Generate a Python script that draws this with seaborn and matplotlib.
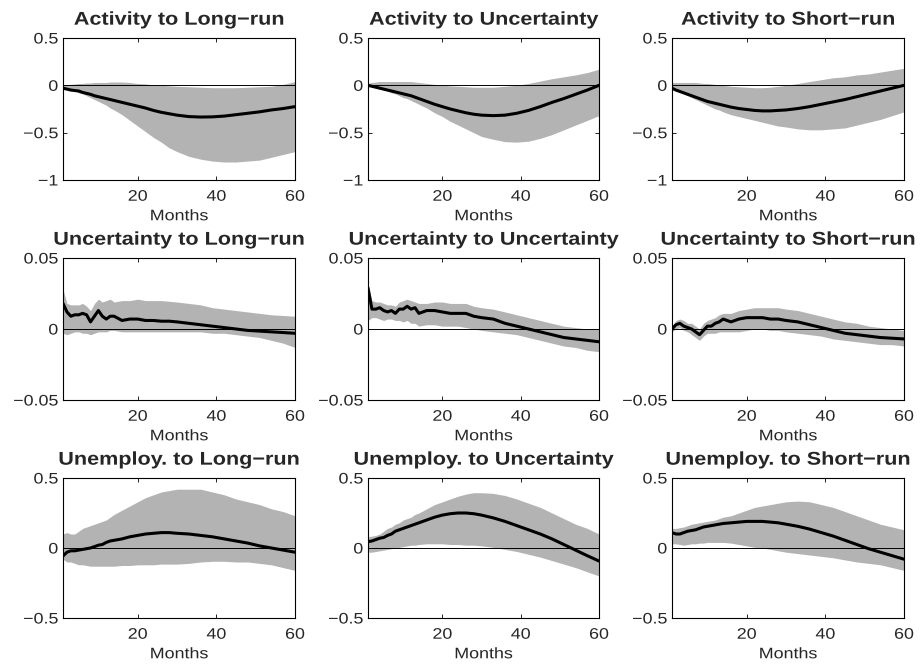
import numpy as np
import pandas as pd
import matplotlib
matplotlib.use("Agg")
import matplotlib.pyplot as plt
from matplotlib.patheffects import AbstractPathEffect
from matplotlib.transforms import Affine2D
import seaborn as sns

# Horizon grid (months) on which the responses are recorded
months = [1, 2, 3, 4, 5, 6, 7, 8, 9, 10, 11, 12, 13, 14, 16, 18, 20, 22, 24,
          26, 28, 30, 33, 36, 39, 42, 45, 48, 51, 54, 57, 60]

# ---- Activity responses ----
act_lr_mid = [-0.03, -0.04, -0.05, -0.055, -0.06, -0.075, -0.085, -0.095, -0.11, -0.12, -0.13, -0.14,
              -0.15, -0.16, -0.18, -0.2, -0.22, -0.24, -0.265, -0.285, -0.3, -0.315, -0.33, -0.335,
              -0.333, -0.325, -0.31, -0.295, -0.28, -0.26, -0.245, -0.225]
act_lr_lo = [-0.03, -0.04, -0.05, -0.06, -0.08, -0.09, -0.11, -0.13, -0.15, -0.17, -0.19, -0.21,
             -0.24, -0.26, -0.31, -0.37, -0.43, -0.49, -0.55, -0.6, -0.66, -0.7, -0.75, -0.78,
             -0.8, -0.81, -0.81, -0.8, -0.79, -0.76, -0.73, -0.7]
act_lr_hi = [0.0, 0.01, 0.01, 0.015, 0.02, 0.02, 0.025, 0.025, 0.03, 0.03, 0.03, 0.03,
             0.035, 0.035, 0.035, 0.03, 0.02, 0.015, 0.005, 0.0, -0.005, -0.01, -0.015, -0.02,
             -0.025, -0.025, -0.025, -0.02, -0.015, -0.01, 0.01, 0.04]

act_un_mid = [0.0, -0.01, -0.02, -0.03, -0.04, -0.05, -0.06, -0.07, -0.08, -0.09, -0.1, -0.11,
              -0.125, -0.14, -0.17, -0.2, -0.225, -0.25, -0.27, -0.29, -0.305, -0.315, -0.32, -0.315,
              -0.295, -0.265, -0.225, -0.18, -0.14, -0.095, -0.05, 0.0]
act_un_lo = [0.0, -0.01, -0.02, -0.035, -0.05, -0.06, -0.08, -0.09, -0.11, -0.13, -0.14, -0.16,
             -0.18, -0.2, -0.24, -0.29, -0.33, -0.38, -0.42, -0.46, -0.5, -0.54, -0.57, -0.595,
             -0.6, -0.59, -0.56, -0.52, -0.47, -0.42, -0.37, -0.32]
act_un_hi = [0.02, 0.03, 0.035, 0.04, 0.04, 0.04, 0.04, 0.04, 0.04, 0.04, 0.04, 0.04,
             0.035, 0.03, 0.02, 0.01, 0.0, -0.005, -0.01, -0.015, -0.02, -0.02, -0.02, -0.01,
             0.0, 0.02, 0.045, 0.07, 0.09, 0.11, 0.135, 0.17]

act_sr_mid = [-0.03, -0.05, -0.065, -0.08, -0.095, -0.11, -0.125, -0.14, -0.155, -0.17, -0.18, -0.19,
              -0.2, -0.21, -0.23, -0.245, -0.255, -0.265, -0.27, -0.27, -0.265, -0.26, -0.245, -0.225,
              -0.2, -0.175, -0.15, -0.12, -0.09, -0.06, -0.03, 0.0]
act_sr_lo = [-0.02, -0.05, -0.07, -0.09, -0.11, -0.13, -0.15, -0.17, -0.19, -0.21, -0.23, -0.25,
             -0.26, -0.28, -0.31, -0.33, -0.35, -0.37, -0.39, -0.41, -0.43, -0.44, -0.46, -0.47,
             -0.47, -0.46, -0.45, -0.42, -0.39, -0.36, -0.32, -0.28]
act_sr_hi = [0.03, 0.03, 0.03, 0.03, 0.03, 0.03, 0.03, 0.025, 0.02, 0.02, 0.015, 0.01,
             0.005, 0.0, -0.01, -0.015, -0.02, -0.025, -0.025, -0.02, -0.01, 0.0, 0.02, 0.04,
             0.06, 0.08, 0.09, 0.11, 0.12, 0.14, 0.16, 0.18]

# ---- Uncertainty responses ----
unc_lr_mid = [0.018, 0.012, 0.009, 0.010, 0.010, 0.011, 0.010, 0.005, 0.009, 0.013, 0.009, 0.007,
              0.009, 0.009, 0.006, 0.007, 0.007, 0.006, 0.006, 0.0055, 0.0055, 0.005, 0.004, 0.003,
              0.002, 0.001, 0.0, -0.001, -0.0015, -0.002, -0.0025, -0.003]
unc_lr_lo = [-0.003, -0.004, -0.003, -0.002, -0.002, -0.003, -0.003, -0.004, -0.003, -0.002, -0.002, -0.002,
             -0.001, -0.001, -0.002, -0.002, -0.002, -0.002, -0.002, -0.002, -0.002, -0.002, -0.002, -0.002,
             -0.003, -0.003, -0.004, -0.005, -0.006, -0.008, -0.010, -0.013]
unc_lr_hi = [0.028, 0.018, 0.017, 0.017, 0.017, 0.018, 0.016, 0.013, 0.018, 0.021, 0.019, 0.020,
             0.021, 0.019, 0.020, 0.020, 0.021, 0.020, 0.020, 0.020, 0.0195, 0.019, 0.018, 0.017,
             0.015, 0.014, 0.013, 0.012, 0.011, 0.010, 0.0095, 0.009]

unc_un_mid = [0.029, 0.014, 0.014, 0.015, 0.013, 0.012, 0.013, 0.011, 0.014, 0.014, 0.016, 0.014,
              0.015, 0.011, 0.013, 0.013, 0.012, 0.011, 0.011, 0.011, 0.009, 0.008, 0.007, 0.004,
              0.002, 0.0, -0.002, -0.004, -0.006, -0.007, -0.008, -0.009]
unc_un_lo = [0.006, 0.008, 0.008, 0.007, 0.006, 0.007, 0.007, 0.006, 0.006, 0.005, 0.006, 0.004,
             0.004, 0.002, 0.003, 0.003, 0.002, 0.002, 0.002, 0.001, 0.0, -0.001, -0.002, -0.003,
             -0.004, -0.006, -0.008, -0.010, -0.012, -0.013, -0.015, -0.016]
unc_un_hi = [0.030, 0.020, 0.019, 0.019, 0.018, 0.017, 0.017, 0.016, 0.019, 0.020, 0.021, 0.020,
             0.019, 0.018, 0.018, 0.019, 0.019, 0.018, 0.018, 0.018, 0.016, 0.015, 0.014, 0.012,
             0.010, 0.008, 0.006, 0.004, 0.002, 0.001, 0.0, 0.0]

unc_sr_mid = [0.0, 0.003, 0.004, 0.002, 0.001, 0.0, -0.002, -0.004, -0.001, 0.002, 0.002, 0.004,
              0.005, 0.007, 0.005, 0.007, 0.008, 0.008, 0.008, 0.007, 0.007, 0.006, 0.005, 0.003,
              0.001, -0.001, -0.003, -0.004, -0.005, -0.006, -0.0065, -0.007]
unc_sr_lo = [-0.002, 0.0, 0.001, -0.001, -0.002, -0.004, -0.006, -0.008, -0.005, -0.003, -0.003, -0.003,
             -0.002, -0.002, -0.002, -0.002, -0.001, 0.0, 0.0, -0.001, -0.001, -0.002, -0.003, -0.004,
             -0.005, -0.007, -0.008, -0.009, -0.010, -0.011, -0.011, -0.012]
unc_sr_hi = [0.002, 0.006, 0.007, 0.006, 0.004, 0.004, 0.002, 0.000, 0.004, 0.006, 0.007, 0.008,
             0.010, 0.011, 0.011, 0.013, 0.014, 0.015, 0.015, 0.015, 0.015, 0.014, 0.013, 0.011,
             0.009, 0.007, 0.005, 0.004, 0.002, 0.001, 0.0, -0.001]

# ---- Unemployment responses ----
une_lr_mid = [-0.057, -0.03, -0.02, -0.02, -0.015, -0.01, -0.005, 0.0, 0.01, 0.02, 0.025, 0.04,
              0.05, 0.055, 0.065, 0.08, 0.09, 0.1, 0.105, 0.11, 0.11, 0.105, 0.1, 0.09,
              0.08, 0.065, 0.05, 0.035, 0.015, 0.0, -0.015, -0.03]
une_lr_lo = [-0.08, -0.10, -0.10, -0.11, -0.12, -0.12, -0.125, -0.13, -0.13, -0.13, -0.13, -0.13,
             -0.13, -0.13, -0.125, -0.125, -0.12, -0.12, -0.12, -0.115, -0.115, -0.115, -0.11, -0.10,
             -0.095, -0.095, -0.10, -0.10, -0.11, -0.12, -0.14, -0.16]
une_lr_hi = [0.10, 0.11, 0.10, 0.10, 0.12, 0.14, 0.15, 0.16, 0.17, 0.18, 0.19, 0.20,
             0.22, 0.24, 0.27, 0.30, 0.33, 0.36, 0.38, 0.40, 0.41, 0.42, 0.42, 0.42,
             0.40, 0.38, 0.35, 0.33, 0.31, 0.28, 0.26, 0.23]

une_un_mid = [0.045, 0.05, 0.06, 0.07, 0.075, 0.09, 0.1, 0.12, 0.13, 0.14, 0.15, 0.16,
              0.17, 0.18, 0.2, 0.22, 0.235, 0.245, 0.25, 0.25, 0.245, 0.235, 0.215, 0.19,
              0.16, 0.13, 0.1, 0.065, 0.025, -0.015, -0.055, -0.093]
une_un_lo = [-0.03, -0.03, -0.025, -0.02, -0.015, -0.01, -0.005, 0.0, 0.005, 0.01, 0.015, 0.02,
             0.02, 0.025, 0.03, 0.03, 0.03, 0.025, 0.025, 0.02, 0.02, 0.015, 0.005, -0.01,
             -0.025, -0.045, -0.065, -0.09, -0.115, -0.14, -0.17, -0.2]
une_un_hi = [0.08, 0.085, 0.09, 0.1, 0.12, 0.14, 0.15, 0.17, 0.18, 0.2, 0.21, 0.22,
             0.24, 0.25, 0.28, 0.31, 0.33, 0.35, 0.37, 0.385, 0.395, 0.395, 0.39, 0.375,
             0.35, 0.32, 0.29, 0.25, 0.21, 0.17, 0.14, 0.1]

une_sr_mid = [0.11, 0.1, 0.1, 0.11, 0.12, 0.125, 0.13, 0.14, 0.15, 0.155, 0.16, 0.165,
              0.17, 0.175, 0.18, 0.185, 0.19, 0.19, 0.19, 0.185, 0.18, 0.17, 0.155, 0.135,
              0.11, 0.085, 0.055, 0.025, -0.005, -0.03, -0.055, -0.08]
une_sr_lo = [0.03, 0.03, 0.025, 0.02, 0.025, 0.03, 0.03, 0.035, 0.035, 0.04, 0.04, 0.04,
             0.04, 0.04, 0.035, 0.025, 0.015, 0.005, 0.0, -0.01, -0.02, -0.03, -0.04, -0.05,
             -0.06, -0.07, -0.085, -0.1, -0.11, -0.12, -0.14, -0.16]
une_sr_hi = [0.14, 0.14, 0.145, 0.15, 0.16, 0.17, 0.175, 0.18, 0.185, 0.19, 0.195, 0.2,
             0.21, 0.22, 0.23, 0.25, 0.27, 0.29, 0.3, 0.31, 0.32, 0.33, 0.335, 0.33,
             0.31, 0.29, 0.26, 0.23, 0.2, 0.17, 0.15, 0.13]

titles = [
    ["Activity to Long\u2212run", "Activity to Uncertainty", "Activity to Short\u2212run"],
    ["Uncertainty to Long\u2212run", "Uncertainty to Uncertainty", "Uncertainty to Short\u2212run"],
    ["Unemploy. to Long\u2212run", "Unemploy. to Uncertainty", "Unemploy. to Short\u2212run"],
]
series = [
    [(act_lr_mid, act_lr_lo, act_lr_hi), (act_un_mid, act_un_lo, act_un_hi), (act_sr_mid, act_sr_lo, act_sr_hi)],
    [(unc_lr_mid, unc_lr_lo, unc_lr_hi), (unc_un_mid, unc_un_lo, unc_un_hi), (unc_sr_mid, unc_sr_lo, unc_sr_hi)],
    [(une_lr_mid, une_lr_lo, une_lr_hi), (une_un_mid, une_un_lo, une_un_hi), (une_sr_mid, une_sr_lo, une_sr_hi)],
]
row_ylim = [(-1, 0.5), (-0.05, 0.05), (-0.5, 0.5)]
row_yticks = [[-1, -0.5, 0, 0.5], [-0.05, 0, 0.05], [-0.5, 0, 0.5]]
row_yticklabels = [["\u22121", "\u22120.5", "0", "0.5"],
                   ["\u22120.05", "0", "0.05"],
                   ["\u22120.5", "0", "0.5"]]
x_ticks = [20, 40, 60]


class Widen(AbstractPathEffect):
    """Draw text glyphs horizontally stretched about an anchor edge."""

    def __init__(self, sx=1.17, anchor="center"):
        super().__init__()
        self.sx = sx
        self.anchor = anchor

    def draw_path(self, renderer, gc, tpath, affine, rgbFace=None):
        ext = tpath.get_extents(affine)
        if self.anchor == "right":
            x0 = ext.x1
        elif self.anchor == "left":
            x0 = ext.x0
        else:
            x0 = 0.5 * (ext.x0 + ext.x1)
        stretched = affine + Affine2D().translate(-x0, 0).scale(self.sx, 1).translate(x0, 0)
        renderer.draw_path(gc, tpath, stretched, rgbFace)


sns.set_style("ticks")
plt.rcParams["font.family"] = ["Liberation Sans", "DejaVu Sans"]
plt.rcParams["axes.linewidth"] = 0.8

W, H = 922, 667
fig = plt.figure(figsize=(W / 100, H / 100), dpi=100)
fig.patch.set_facecolor("white")

col_px = [(63, 232), (368, 231), (672, 232)]
row_px = [(38, 142), (258, 142), (478, 140)]

band_color = "#b3b3b3"
wide_c = Widen(1.17, "center")
wide_r = Widen(1.17, "right")

for r in range(3):
    for c in range(3):
        left, width = col_px[c]
        top, height = row_px[r]
        ax = fig.add_axes([left / W, 1 - (top + height) / H, width / W, height / H])
        mid, lo, hi = series[r][c]
        ax.fill_between(months, lo, hi, color=band_color, linewidth=0, zorder=1)
        ax.axhline(0, color="black", linewidth=0.7, zorder=2)
        df = pd.DataFrame({"Months": months, "Response": mid})
        sns.lineplot(data=df, x="Months", y="Response", ax=ax, color="black",
                     linewidth=2.2, zorder=3)
        ax.set_xlim(1, 60)
        ax.set_ylim(*row_ylim[r])
        ax.set_xticks(x_ticks)
        xt = ax.set_xticklabels([str(t) for t in x_ticks])
        ax.set_yticks(row_yticks[r])
        yt = ax.set_yticklabels(row_yticklabels[r])
        ax.tick_params(direction="in", length=3, width=0.6, top=True, right=True,
                       labelsize=11, color="black")
        ax.tick_params(axis="x", pad=7)
        ax.tick_params(axis="y", pad=3.5)
        for t in xt:
            t.set_path_effects([wide_c])
        for t in yt:
            t.set_path_effects([wide_r])
        xl = ax.set_xlabel("Months", fontsize=11, labelpad=4)
        xl.set_path_effects([wide_c])
        ax.set_ylabel("")
        tt = ax.set_title(titles[r][c], fontsize=13.3, fontweight="bold", pad=9.6)
        tt.set_path_effects([wide_c])
        for s in ax.spines.values():
            s.set_visible(True)
            s.set_color("black")

fig.savefig("out.png", dpi=100, facecolor="white")
